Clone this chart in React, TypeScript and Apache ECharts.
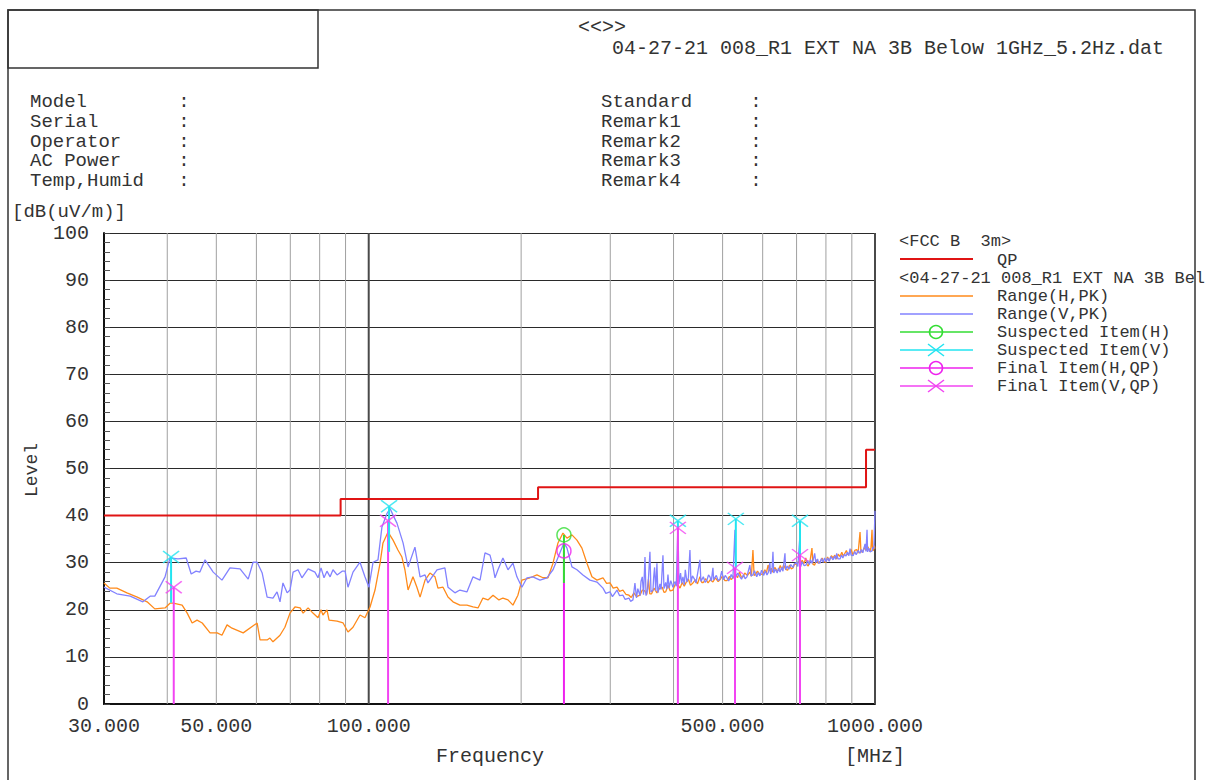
import React, { useEffect, useRef } from 'react';
import * as echarts from 'echarts';

const FONT = '"Liberation Mono", "DejaVu Sans Mono", monospace';
const TEXT = '#333';

// ---- Limit line (FCC B 3m, QP) ----
const limitFreq = [30, 88, 88, 216, 216, 960, 960, 1000];
const limitLevel = [40, 40, 43.5, 43.5, 46, 46, 54, 54];

// ---- Range (H, PK) ----
const hFreq = [30, 30.8, 31.8, 33.3, 34.9, 36.5, 37.8, 39.6, 40.5, 41.1, 42.8, 43.8, 44.8, 45.8, 46.9, 48.6, 50.2, 51.3, 52.5, 53.7, 56.5, 60.2, 61.0, 63.0, 63.8, 64.7, 66.8, 68.3, 69.9, 71.5, 73.2, 74.2, 75.9, 77.6, 79.4, 80.5, 81.2, 82.7, 83.5, 86.6, 89.0, 91.0, 93.1, 96.1, 98.3, 100.6, 102.9, 105.3, 106.7, 109.2, 111.7, 114.2, 116.3, 117.9, 119.6, 122.3, 124.5, 126.3, 129.2, 132.1, 135.2, 137.0, 140.2, 143.4, 146.7, 151.4, 156.3, 160.7, 164.4, 168.1, 172.0, 176.0, 180.8, 184.1, 188.4, 192.7, 197.1, 200.7, 208.2, 214.9, 220.9, 226.0, 231.2, 236.5, 241.9, 246.4, 252.0, 257.8, 263.7, 269.8, 276.0, 282.4,
  290.2, 295, 299.6, 304, 309.3, 313, 317.8, 322, 326.6, 330, 334, 338, 343.4, 347, 351, 354, 357, 359, 362, 366, 370.9, 375, 380, 383, 386, 390, 394, 398.9, 403, 408.1, 412, 416, 420, 424, 428, 432, 436.9, 442, 446, 451, 455, 458, 463, 468, 473, 478.5, 484, 490, 495, 500, 505, 510, 516, 520, 524.1, 530, 535, 540, 544, 548, 553, 560, 566, 570, 574, 577, 580, 586, 592, 600, 606, 610, 615, 620, 624, 628.7, 634, 640, 645, 650, 655, 660, 666, 672, 678, 683, 688.6, 694, 700, 706, 712, 718, 724, 730, 734, 738, 744, 750.7, 754, 760, 766, 772, 780, 786, 792, 800, 806, 812, 820, 826.3, 833, 840, 846, 853, 860, 866, 870, 878, 884, 890, 897, 905, 912, 920, 926, 934.2, 938, 945, 952, 960, 968, 977.7, 982, 986.6, 989, 993, 997, 1000];
const hLevel = [25.7, 24.6, 24.6, 23.6, 22.7, 21.7, 20.2, 20.4, 21.4, 21.4, 21, 19.3, 17.2, 17.8, 17.2, 15.1, 15.1, 14.6, 16.8, 16.1, 15.1, 17.2, 13.6, 13.6, 14, 13.2, 14.6, 16.3, 19.3, 20.6, 20.4, 19.3, 20.4, 19.3, 18.3, 20, 18.9, 20, 17.8, 17.6, 17.2, 15.3, 16.3, 18.9, 18.3, 20.6, 24.2, 29.9, 34.2, 36.5, 34.8, 32.7, 31.2, 28.5, 24.2, 27, 24.8, 22.7, 26.3, 27.8, 27, 24.6, 24.8, 22.7, 21.7, 21, 21, 20.6, 20.4, 22.5, 22.1, 23.1, 22.1, 22.5, 22.1, 21, 23.1, 26.3, 26.8, 27.4, 26.8, 26.8, 29.9, 34.2, 36.3, 35.2, 35.9, 34.8, 33.1, 29.9, 27, 26.3,
  26.8, 25.6, 25.7, 24.6, 24.8, 23.9, 24.2, 23.3, 23.1, 22.6, 23.6, 22.8, 23.1, 24.2, 24, 23.2, 26.5, 23.4, 23.4, 24.6, 23.6, 24.5, 24.8, 23.7, 23.8, 25.2, 24, 24.2, 25.4, 25.3, 24.6, 25.8, 25, 25.9, 26.5, 25.2, 25.7, 26.4, 25.5, 27, 25.8, 25.8, 26.6, 25.7, 26.4, 25.9, 26.8, 26, 26.5, 27.2, 26.2, 26.2, 27.1, 26.4, 26.8, 27.6, 26.8, 28, 27, 26.9, 27.8, 27.3, 28, 27.1, 32.7, 27.3, 27.4, 28.2, 27.5, 27.6, 28.5, 27.8, 29.5, 28.2, 28.8, 28, 29, 28.3, 28.4, 29.4, 28.5, 29.5, 28.6, 28.4, 29.5, 28.7, 28.9, 29.8, 29.6, 30.3, 29.5, 30.5, 29.8, 31, 29.6, 29.3, 30.3, 33.1, 29.7, 29.5, 30.6, 29.9, 30.3, 31, 30.2, 30.1, 31.2, 30.4, 31.5, 31, 31.6, 30.8, 31.8, 31.3, 32.2, 31.3, 31.8, 32.6, 31.7, 32, 32.8, 31.6, 32.6, 32.8, 32, 36.5, 32.3, 32.3, 33.2, 32.6, 33.4, 32.3, 33.3, 37, 32.6, 32.6, 33.6, 33];

// ---- Range (V, PK) ----
const vFreq = [30, 31.8, 33.8, 35.8, 37.0, 37.8, 39.6, 40.5, 42.0, 43.6, 44.6, 45.6, 46.4, 47.5, 49.3, 51.3, 53.2, 55.7, 57.8, 59.1, 60.2, 61.6, 63.0, 64.7, 65.9, 66.8, 67.7, 69.0, 69.9, 70.9, 72.5, 73.8, 75.9, 78.3, 79.4, 80.5, 81.6, 82.7, 83.9, 85.0, 86.6, 88.6, 89.8, 91.0, 93.1, 96.1, 98.3, 100.1, 102.0, 104.3, 106.2, 108.7, 110.2, 111.7, 113.7, 116.9, 119.6, 123.4, 126.3, 129.2, 130.9, 136.4, 141.4, 143.4, 148.0, 151.4, 156.3, 160.7, 165.9, 169.7, 173.6, 176.0, 177.6, 180.0, 184.1, 188.4, 192.7, 196.2, 200.7, 205.4, 211.0, 217.9, 224.9, 231.2, 238.6, 243.0, 246.4, 252.0, 257.8, 264.9, 273.5, 282.4,
  290.2, 294, 299.6, 303, 309.3, 313, 317.8, 321, 326.6, 329, 332.6, 335.6, 338, 340, 343.4, 345, 347, 349, 351.3, 353, 356, 359.3, 361, 364.3, 365.5, 367, 369, 370.9, 372.5, 376, 378, 381.2, 383, 386, 388, 390, 392, 395, 398.9, 401, 403, 405, 408.1, 410, 413, 415, 417.5, 420, 422, 425.1, 428, 431, 433, 436, 440, 443, 446, 451, 453, 458, 462, 465.6, 469, 472, 475, 478.5, 480, 486, 490, 494, 498, 502, 506, 510, 514, 520, 524, 528.9, 531, 536, 541.1, 545, 550, 554, 558.6, 562, 566, 569, 574, 578, 584, 588, 592.6, 597, 603, 607, 611.8, 616, 620, 622, 626, 628.7, 631, 636, 641, 645, 649.1, 654, 658, 664, 666, 671, 676, 682, 688.6, 693, 700, 704, 710.9, 713, 718, 724, 730.5, 736, 742, 746, 750.7, 755, 760, 764, 770, 774, 778.8, 784, 790, 795, 800.4, 806, 812, 818, 826.3, 832, 836, 840, 845, 853, 858, 864, 870, 876.6, 882, 888, 892.7, 897, 905, 912, 918, 926, 934.2, 940, 946, 955.7, 960, 964.4, 967, 972, 978, 986.6, 991, 995, 1000];
const vLevel = [24.8, 23.4, 22.9, 21.7, 22.9, 22.9, 27, 31, 30.8, 31, 27.6, 28.2, 28, 30.6, 28, 26.3, 28.9, 28.7, 26.5, 30.1, 30.1, 27.8, 22.7, 22.5, 23.8, 21.7, 25.7, 23.6, 24.2, 28, 28.5, 26.8, 28.7, 28, 26.8, 28.9, 26.8, 28.2, 27, 28.5, 27.4, 28.2, 28.2, 24.8, 28, 30.1, 27, 24.8, 30.1, 30.6, 37.6, 40.5, 41.5, 40.1, 38.4, 34.2, 29.1, 33.3, 27, 27.4, 25.7, 28.5, 28.9, 24.8, 23.6, 24.2, 23.8, 27, 26.3, 32.1, 31.6, 29.1, 26.8, 28.5, 31, 28.5, 29.9, 27, 24.8, 26.8, 27, 26.3, 26.8, 28.5, 32.1, 34.2, 33.1, 29.1, 28.5, 27.4, 26.3, 25.9,
  24.6, 23.5, 23.8, 22.8, 24.2, 23.0, 23.1, 22.2, 22.5, 21.8, 22.1, 25.7, 22.5, 24.5, 23, 26, 27, 23.2, 31.2, 23.0, 24.5, 32.3, 23.8, 24.2, 27, 29, 24, 29.9, 23.6, 25.5, 24.3, 31.6, 24.5, 25.8, 24.4, 27.5, 24.6, 26.2, 24.8, 25.6, 26, 25, 38.2, 25.5, 27.8, 25.6, 27, 25.3, 28.5, 25.9, 26.8, 32.7, 25.8, 27.2, 26.5, 25.7, 27.5, 30.6, 26, 27, 25.8, 26.3, 27.4, 27, 26.1, 28.9, 26.4, 27.3, 26.2, 26.5, 28.2, 26.4, 27.3, 26.8, 26.1, 27.5, 26.6, 37, 27, 27.8, 27, 26.5, 27.5, 26.6, 27, 28.2, 29.5, 27.2, 27.4, 28.3, 27, 27.9, 27.2, 28.4, 27.3, 28.3, 27.4, 28, 30, 27.6, 28.5, 32.3, 27.8, 28.6, 27.8, 28.9, 28, 29, 28.2, 32, 28.5, 29.3, 28.6, 29.6, 29, 29.8, 30, 29.2, 36, 29.1, 30.2, 29.4, 29.5, 30.5, 29.6, 30.6, 29.9, 30.6, 32, 30, 30.8, 29.9, 29.9, 30.9, 30.1, 31, 30.2, 31, 30.3, 31.3, 30.6, 31.4, 30.7, 32, 30.8, 30.8, 31.6, 31, 31.8, 31.4, 32.2, 31.5, 33, 31.6, 31.5, 32.4, 31.7, 32.6, 32, 32.8, 32.1, 34, 32.4, 37, 32.3, 33.1, 32.3, 32.5, 33.3, 33, 41];

// ---- Suspected / Final items ----
const suspFreq = [40.7, 109.7, 243, 408, 531, 711];
const suspLevel = [31.2, 42.0, 35.9, 38.9, 39.3, 38.9];
const suspStemBottom = [21.5, 32.3, 25.7, 37.4, 28.9, 31.6];
const suspPol = ['V', 'V', 'H', 'V', 'V', 'V'];
const finalFreq = [41.2, 109.2, 243, 408, 529, 711];
const finalLevel = [24.8, 38.9, 32.5, 37.4, 28.9, 31.6];
const finalPol = ['V', 'V', 'H', 'V', 'V', 'V'];

// ---- Axes ----
const xMin = 30;
const xMax = 1000;
const yMin = 0;
const yMax = 100;
const gridFreqs = [40, 50, 60, 70, 80, 90, 100, 200, 300, 400, 500, 600, 700, 800, 900, 1000];
const xTickValues = [30, 50, 100, 500, 1000];
const xTickLabels = ['30.000', '50.000', '100.000', '500.000', '1000.000'];

// ---- Header texts ----
const titleLine1 = '<<>>';
const titleLine2 = '04-27-21 008_R1 EXT NA 3B Below 1GHz_5.2Hz.dat';
const infoLeft = ['Model', 'Serial', 'Operator', 'AC Power', 'Temp,Humid'];
const infoRight = ['Standard', 'Remark1', 'Remark2', 'Remark3', 'Remark4'];

const C_LIMIT = '#e01414';
const C_H = '#ff8a1a';
const C_V = '#8282ff';
const C_SUSP_H = '#33dd33';
const C_SUSP_V = '#22e4f0';
const C_FINAL_H = '#ee22ee';
const C_FINAL_V = '#f244f2';

const X_SYMBOL = 'path://M0,0L16,12M16,0L0,12';

export default function App() {
  const ref = useRef<HTMLDivElement>(null);

  useEffect(() => {
    const chart = echarts.init(ref.current as HTMLDivElement, null, { renderer: 'svg' });

    const txt = (x: number, y: number, text: string, size = 20, align = 'left', extra: any = {}) => ({
      type: 'text',
      x,
      y,
      silent: true,
      ...extra,
      style: { text, fontSize: size, fontFamily: FONT, fill: TEXT, align, verticalAlign: 'middle' },
    });

    const graphics: any[] = [];
    graphics.push({ type: 'rect', silent: true, shape: { x: 8, y: 10, width: 1187, height: 800 }, style: { fill: 'none', stroke: '#333', lineWidth: 1.5 } });
    graphics.push({ type: 'rect', silent: true, shape: { x: 8, y: 10, width: 310, height: 58 }, style: { fill: 'none', stroke: '#333', lineWidth: 1.5 } });
    graphics.push(txt(578, 27, titleLine1));
    graphics.push(txt(612, 48, titleLine2));
    infoLeft.forEach((t, i) => {
      const y = 102 + i * 19.8;
      graphics.push(txt(30, y, t, 19));
      graphics.push(txt(184, y, ':', 19, 'center'));
    });
    infoRight.forEach((t, i) => {
      const y = 102 + i * 19.8;
      graphics.push(txt(601, y, t, 19));
      graphics.push(txt(756, y, ':', 19, 'center'));
    });
    graphics.push(txt(12, 212, '[dB(uV/m)]', 19));
    graphics.push(txt(32, 470, 'Level', 18, 'center', { rotation: Math.PI / 2 }));
    graphics.push(txt(490, 756, 'Frequency', 20, 'center'));
    graphics.push(txt(875, 756, '[MHz]', 20, 'center'));

    // Legend
    const LX1 = 900, LX2 = 973, LXC = 936, LT = 997, LF = 17;
    const legLine = (y: number, color: string, w = 1.5) => ({ type: 'line', silent: true, shape: { x1: LX1, y1: y, x2: LX2, y2: y }, style: { stroke: color, lineWidth: w } });
    const legCircle = (y: number, color: string) => ({ type: 'circle', silent: true, shape: { cx: LXC, cy: y, r: 6.5 }, style: { fill: 'none', stroke: color, lineWidth: 1.5 } });
    const legX = (y: number, color: string) => ([
      { type: 'line', silent: true, shape: { x1: LXC - 8, y1: y - 6, x2: LXC + 8, y2: y + 6 }, style: { stroke: color, lineWidth: 1.5 } },
      { type: 'line', silent: true, shape: { x1: LXC - 8, y1: y + 6, x2: LXC + 8, y2: y - 6 }, style: { stroke: color, lineWidth: 1.5 } },
    ]);
    graphics.push(txt(899, 241, '<FCC B  3m>', LF));
    graphics.push(legLine(259, C_LIMIT, 2));
    graphics.push(txt(LT, 260, 'QP', LF));
    graphics.push(txt(899, 278, '<04-27-21 008_R1 EXT NA 3B Bel', LF));
    graphics.push(legLine(296, C_H));
    graphics.push(txt(LT, 296, 'Range(H,PK)', LF));
    graphics.push(legLine(314, C_V));
    graphics.push(txt(LT, 314, 'Range(V,PK)', LF));
    graphics.push(legLine(332, C_SUSP_H));
    graphics.push(legCircle(332, C_SUSP_H));
    graphics.push(txt(LT, 332, 'Suspected Item(H)', LF));
    graphics.push(legLine(350, C_SUSP_V));
    graphics.push(...legX(350, C_SUSP_V));
    graphics.push(txt(LT, 350, 'Suspected Item(V)', LF));
    graphics.push(legLine(368, C_FINAL_H));
    graphics.push(legCircle(368, C_FINAL_H));
    graphics.push(txt(LT, 368, 'Final Item(H,QP)', LF));
    graphics.push(legLine(386, C_FINAL_V));
    graphics.push(...legX(386, C_FINAL_V));
    graphics.push(txt(LT, 386, 'Final Item(V,QP)', LF));

    const pairs = (xs: number[], ys: number[]) => xs.map((x, i) => [x, ys[i]]);

    const option: any = {
      animation: false,
      backgroundColor: '#ffffff',
      grid: { left: 104, top: 233, width: 771, height: 471, containLabel: false },
      xAxis: {
        type: 'log',
        logBase: 10,
        min: xMin,
        max: xMax,
        axisLine: { show: true, lineStyle: { color: '#111', width: 2 } },
        axisTick: { show: false },
        axisLabel: { show: false },
        splitLine: { show: false },
        minorTick: { show: false },
      },
      yAxis: {
        type: 'value',
        min: yMin,
        max: yMax,
        interval: 10,
        axisLine: { show: true, lineStyle: { color: '#111', width: 2 } },
        axisTick: { show: true, inside: true, length: 6, lineStyle: { color: '#444' } },
        minorTick: { show: true, splitNumber: 5, length: 6, lineStyle: { color: '#555', width: 1 } },
        axisLabel: { show: true, margin: 15, fontSize: 20, fontFamily: FONT, color: TEXT },
        splitLine: { show: true, lineStyle: { color: '#2a2a2a', width: 1 } },
      },
      graphic: graphics,
      series: [
        {
          type: 'custom',
          name: 'vgrid',
          silent: true,
          clip: false,
          z: 1,
          data: gridFreqs.map((f) => [f, 0]),
          renderItem: (params: any, api: any) => {
            const f = api.value(0);
            const a = api.coord([f, yMax]);
            const b = api.coord([f, yMin]);
            const major = f === 100 || f === 1000;
            return {
              type: 'line',
              shape: { x1: a[0], y1: a[1], x2: b[0], y2: b[1] },
              style: { stroke: major ? '#4a4a4a' : '#a0a0a0', lineWidth: major ? 2 : 1 },
            };
          },
        },
        {
          type: 'custom',
          name: 'xlabels',
          silent: true,
          clip: false,
          z: 1,
          data: xTickValues.map((f) => [f, 0]),
          renderItem: (params: any, api: any) => {
            const f = api.value(0);
            const b = api.coord([f, yMin]);
            return {
              type: 'text',
              x: b[0],
              y: b[1] + 22,
              style: { text: xTickLabels[params.dataIndex], fontSize: 20, fontFamily: FONT, fill: TEXT, align: 'center', verticalAlign: 'middle' },
            };
          },
        },
        {
          type: 'line',
          name: 'QP',
          data: pairs(limitFreq, limitLevel),
          symbol: 'none',
          z: 3,
          lineStyle: { color: C_LIMIT, width: 2 },
        },
        {
          type: 'line',
          name: 'Range(H,PK)',
          data: pairs(hFreq, hLevel),
          symbol: 'none',
          z: 4,
          lineStyle: { color: C_H, width: 1.3 },
        },
        {
          type: 'line',
          name: 'Range(V,PK)',
          data: pairs(vFreq, vLevel),
          symbol: 'none',
          z: 5,
          lineStyle: { color: C_V, width: 1.3 },
        },
        {
          type: 'custom',
          name: 'finalStems',
          silent: true,
          z: 6,
          data: finalFreq.map((f, i) => [f, finalLevel[i], 0]),
          renderItem: (params: any, api: any) => {
            const a = api.coord([api.value(0), api.value(1)]);
            const b = api.coord([api.value(0), api.value(2)]);
            const c = finalPol[params.dataIndex] === 'H' ? C_FINAL_H : C_FINAL_V;
            return { type: 'line', shape: { x1: a[0], y1: a[1], x2: b[0], y2: b[1] }, style: { stroke: c, lineWidth: 2 } };
          },
        },
        {
          type: 'custom',
          name: 'suspStems',
          silent: true,
          z: 7,
          data: suspFreq.map((f, i) => [f, suspLevel[i], suspStemBottom[i]]),
          renderItem: (params: any, api: any) => {
            const a = api.coord([api.value(0), api.value(1)]);
            const b = api.coord([api.value(0), api.value(2)]);
            const c = suspPol[params.dataIndex] === 'H' ? C_SUSP_H : C_SUSP_V;
            return { type: 'line', shape: { x1: a[0], y1: a[1], x2: b[0], y2: b[1] }, style: { stroke: c, lineWidth: 2 } };
          },
        },
        {
          type: 'scatter',
          name: 'Suspected Item(H)',
          z: 8,
          symbol: 'circle',
          symbolSize: 14,
          itemStyle: { color: 'transparent', borderColor: C_SUSP_H, borderWidth: 1.5 },
          data: suspFreq.map((f, i) => [f, suspLevel[i]]).filter((_, i) => suspPol[i] === 'H'),
        },
        {
          type: 'scatter',
          name: 'Suspected Item(V)',
          z: 8,
          symbol: X_SYMBOL,
          symbolSize: [16, 12],
          itemStyle: { color: 'transparent', borderColor: C_SUSP_V, borderWidth: 1.5 },
          data: suspFreq.map((f, i) => [f, suspLevel[i]]).filter((_, i) => suspPol[i] === 'V'),
        },
        {
          type: 'scatter',
          name: 'Final Item(H,QP)',
          z: 9,
          symbol: 'circle',
          symbolSize: 14,
          itemStyle: { color: 'transparent', borderColor: C_FINAL_H, borderWidth: 1.5 },
          data: finalFreq.map((f, i) => [f, finalLevel[i]]).filter((_, i) => finalPol[i] === 'H'),
        },
        {
          type: 'scatter',
          name: 'Final Item(V,QP)',
          z: 9,
          symbol: X_SYMBOL,
          symbolSize: [16, 12],
          itemStyle: { color: 'transparent', borderColor: C_FINAL_V, borderWidth: 1.5 },
          data: finalFreq.map((f, i) => [f, finalLevel[i]]).filter((_, i) => finalPol[i] === 'V'),
        },
      ],
    };

    chart.setOption(option);
    return () => chart.dispose();
  }, []);

  return (
    <div
      ref={ref}
      style={{ position: 'fixed', left: 0, top: 0, width: 1229, height: 780, background: '#fff' }}
    />
  );
}
